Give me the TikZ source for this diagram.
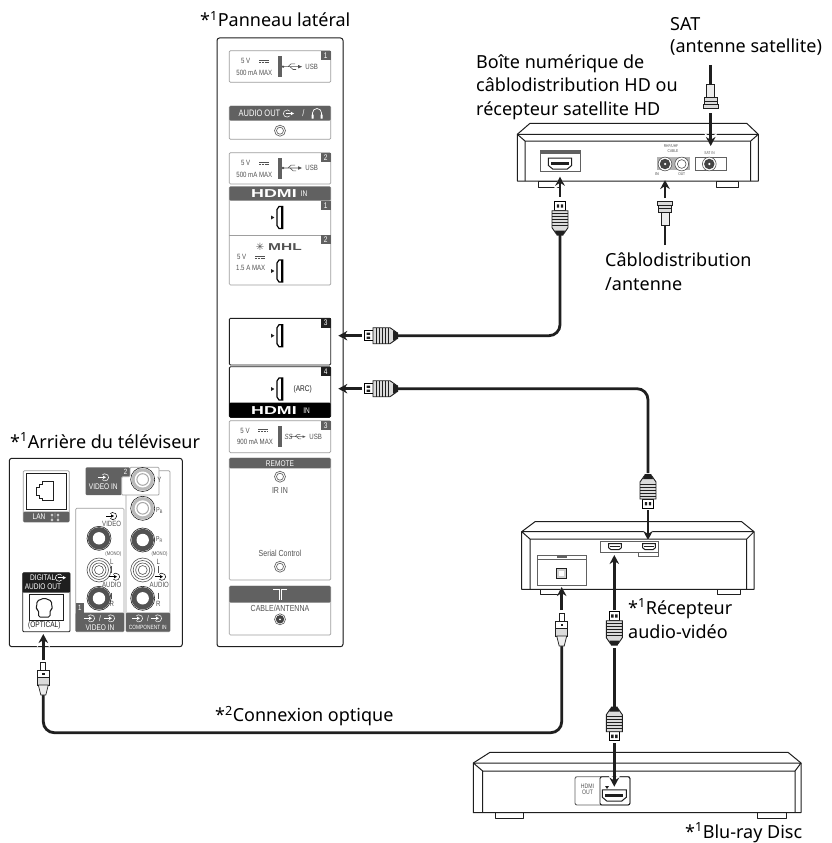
\documentclass[tikz,border=0pt]{standalone}
\usepackage{fontspec}
\usetikzlibrary{arrows.meta}
\setmainfont{Noto Sans}
\newfontfamily\nar[FakeStretch=0.8]{Liberation Sans}
\newfontfamily\wid[FakeStretch=1.55]{Liberation Sans Bold}
\newfontfamily\sym{DejaVu Sans}
\definecolor{pgray}{gray}{0.38}
\definecolor{lgray}{gray}{0.62}
\definecolor{dk}{gray}{0.12}
\definecolor{txt}{gray}{0.32}
\newcounter{tc}
\newcommand\st[4][]{\stepcounter{tc}\node[small,font={\nar\fontsize{\fpeval{#3*1.17}}{\fpeval{#3*1.17}}\selectfont},#1] (t\number\value{tc}) at (#2) {#4};}
\newcommand\wt[3]{\st[text=white]{#1}{#2}{#3}}
\tikzset{
  x=1pt,y=-1pt,
  label/.style={anchor=base west,inner sep=0pt,font=\fontsize{18}{18}\selectfont,text=black},
  small/.style={inner sep=0pt,text=txt},
  box/.style={draw=lgray,line width=0.7pt,rounded corners=1.2pt,fill=white},
  cable/.style={line width=2.8pt,draw=dk,rounded corners=11pt,line cap=butt},
  arr/.style={line width=2.5pt,draw=dk,-{Stealth[length=9pt,width=9.5pt]},
     preaction={draw=white,line width=0.1pt,-{Stealth[length=13pt,width=13pt]}}},
  dev/.style={line width=1pt,draw=dk,line join=round},
  hdmiplug/.pic={
    \draw[line width=.9pt,fill=white] (0,-5.2) rectangle (9,5.2);
    \fill[dk] (2.6,-3.2) rectangle (6,-.8) (2.6,.8) rectangle (6,3.2);
    \draw[line width=.9pt,fill=gray!28,draw=dk] (9,-8) -- (26,-8) -- (32,-3.8) -- (32,3.8) -- (26,8) -- (9,8) -- cycle;
    \fill[dk] (29,-5) -- (34,-3.2) -- (34,3.2) -- (29,5) -- cycle;
    \foreach \r in {12,15,18,21,24} \draw[line width=.6pt,draw=dk] (\r,-8) -- (\r,8);
  },
  optplug/.pic={
    \draw[line width=.7pt,fill=white,draw=dk] (0,-2.5) rectangle (8,2.5);
    \draw[line width=.8pt,fill=white,draw=dk] (8,-6) rectangle (15,6);
    \fill[dk] (10.5,-1.2) rectangle (13,1.2);
    \draw[line width=.8pt,fill=gray!28,draw=dk] (15,-6) rectangle (23,6);
    \draw[line width=.7pt,fill=gray!15,draw=dk] (23,-5) -- (33,-2.5) -- (33,2.5) -- (23,5) -- cycle;
  },
  coaxplug/.pic={
    \draw[line width=.9pt,fill=gray!28,draw=dk] (0,-7.5) rectangle (4,7.5);
    \draw[line width=.9pt,fill=gray!28,draw=dk] (4,-6.5) rectangle (11,6.5);
    \draw[line width=.5pt,draw=dk] (7,-6.5) -- (7,6.5);
    \draw[line width=.9pt,fill=gray!15,draw=dk] (11,-4) rectangle (24,4);
  },
  hport/.pic={
    \draw[line width=1.2pt,draw=black,fill=white] (-3,-8) -- (-1,-11) -- (2.8,-11) -- (2.8,11) -- (-1,11) -- (-3,8) -- cycle;
    \fill[black] (1.4,-11) rectangle (3,11);
    \fill[dk] (-9,-2) -- (-5.6,0) -- (-9,2) -- cycle;
  },
  hconn/.pic={
    \draw[line width=1pt,draw=dk,fill=white] (-8,-3.5) -- (8,-3.5) -- (8,1.5) -- (5,4) -- (-5,4) -- (-8,1.5) -- cycle;
    \fill[dk] (-6,-1) rectangle (6,1);
  },
  sjack/.pic={
    \draw[line width=.6pt,draw=txt,fill=white] (0,0) circle (5.5);
    \draw[line width=.6pt,draw=txt] (0,0) circle (3.5);
  },
  coaxj/.pic={
    \draw[line width=.6pt,draw=txt,fill=white] (0,0) circle (5.5);
    \fill[pgray!70!black] (0,0) circle (4.2);
    \fill[white] (0,0) circle (1);
  },
  rcad/.pic={
    \draw[line width=.6pt,draw=dk,fill=white] (0,0) circle (12);
    \fill[pgray!85!black] (0,0) circle (11.2);
    \fill[white] (0,0) circle (6.2);
  },
  rcag/.pic={
    \draw[line width=.6pt,draw=dk,fill=white] (0,0) circle (12);
    \fill[gray!55] (0,0) circle (11.2);
    \fill[white] (0,0) circle (8);
    \draw[line width=1pt,draw=gray!70] (0,0) circle (5.8);
  },
  rcaw/.pic={
    \draw[line width=.6pt,draw=txt,fill=white] (0,0) circle (12);
    \draw[line width=.6pt,draw=txt] (0,0) circle (9.5);
    \draw[line width=.6pt,draw=txt] (0,0) circle (7);
    \draw[line width=.6pt,draw=txt] (0,0) circle (4.5);
  },
  usbi/.pic={
    \draw[line width=.55pt,draw=txt] (-9,0) -- (7,0) (-4,0) -- (-1,-2.8) -- (3,-2.8) (-2,0) -- (1,2.8) -- (4,2.8);
    \fill[txt] (-9,0) circle (1.3) (10,0) -- (6,-1.8) -- (6,1.8) -- cycle;
  },
  dcs/.pic={
    \draw[line width=.5pt,draw=txt] (-5,-1) -- (5,-1);
    \draw[line width=.5pt,draw=txt,dash pattern=on 2pt off .8pt] (-5,1) -- (5,1);
  },
  oute/.pic={
    \draw[line width=.55pt,draw=#1] (-1,0) ++(40:3.6) arc (40:320:3.6);
    \draw[line width=.55pt,draw=#1] (-2,0) -- (3,0);
    \fill[#1] (6,0) -- (2.8,-1.8) -- (2.8,1.8) -- cycle;
  },
  oute/.default=txt,
  ine/.pic={
    \draw[line width=.5pt,draw=#1] (1,0) ++(140:3.6) arc (140:-140:3.6);
    \draw[line width=.5pt,draw=#1] (-6,0) -- (0,0);
    \fill[#1] (2,0) -- (-.8,-1.6) -- (-.8,1.6) -- cycle;
  },
  ine/.default=txt,
}
\begin{document}
\begin{tikzpicture}
\useasboundingbox (0,0) rectangle (832,843);
\fill[white] (0,0) rectangle (832,843);

%=== side panel
\node[draw=none,minimum width=126pt,minimum height=608.7pt,inner sep=0pt] (panel) at (280,342.4) {};
\draw[line width=1pt,draw=dk,rounded corners=2.5pt,fill=white] (217,38) rectangle (343,646.7);
\draw[line width=1pt,draw=pgray] (343,42) -- (343,643);
% USB 1
\draw[box] (229.3,50.7) rectangle (330.7,82.3);
\fill[pgray] (320.7,50.7) rectangle (330.7,60);
\wt{325.7,55.5}{7}{1}
\st{245.7,61}{6.5}{5 V}
\pic at (264,61) {dcs};
\st{254.3,72.7}{6.5}{500 mA MAX}
\fill[pgray] (278,56) rectangle (282,77.3);
\pic at (292,66.7) {usbi};
\st{311.7,66.7}{6.5}{USB}
% Audio
\draw[box] (229.3,106) rectangle (330.7,139.3);
\fill[pgray,rounded corners=1.2pt] (229.3,106) rectangle (330.7,120.7);
\wt{259.5,113.5}{8}{AUDIO OUT}
\pic at (288,113.5) {oute=white};
\wt{303.5,113.5}{8}{/}
\draw[line width=.7pt,draw=white] (312.5,118) -- (312.5,113) arc (-180:0:4.5) -- (321.5,118);
\fill[white] (311.5,114.5) rectangle (313.5,118.5) (320.5,114.5) rectangle (322.5,118.5);
\pic at (280,130.7) {sjack};
% USB 2
\draw[box] (229.3,152.7) rectangle (330.7,184);
\fill[pgray] (320.7,152.7) rectangle (330.7,162);
\wt{325.7,157.5}{7}{2}
\st{245.7,163}{6.5}{5 V}
\pic at (264,163) {dcs};
\st{254.3,174.5}{6.5}{500 mA MAX}
\fill[pgray] (278,158) rectangle (282,178.5);
\pic at (292,168) {usbi};
\st{311.7,168}{6.5}{USB}
% HDMI 1/2
\draw[box] (229.3,186.7) rectangle (330.7,285);
\draw[line width=.7pt,draw=lgray] (229.3,235) -- (330.7,235);
\fill[pgray,rounded corners=1.2pt] (229.3,186.7) rectangle (330.7,200.7);
\node[small,text=white,font={\wid\fontsize{11.5}{11.5}\selectfont}] (logoa) at (274,194) {HDMI};
\wt{304,194}{7}{IN}
\fill[pgray] (320.7,200.7) rectangle (330.7,210);
\wt{325.7,205.5}{7}{1}
\pic at (280,217.5) {hport};
\fill[pgray] (320.7,235) rectangle (330.7,244);
\wt{325.7,239.5}{7}{2}
\node[small,font={\wid\fontsize{10}{10}\selectfont},text=txt] (logob) at (285,246.7) {MHL};
\node[small,font={\sym\fontsize{10}{10}\selectfont},text=txt] (star) at (260,246.7) {✳};
\st{241.7,257}{6.5}{5 V}
\pic at (260,257) {dcs};
\st{250.7,268.3}{6.5}{1.5 A MAX}
\pic at (280,271) {hport};
% HDMI 3/4
\node[inner sep=0pt,minimum width=6pt,minimum height=22pt] (h3) at (280,335.7) {};
\node[inner sep=0pt,minimum width=6pt,minimum height=22pt] (h4) at (280,389) {};
\draw[line width=.9pt,draw=dk,rounded corners=1.2pt] (229.3,318.3) rectangle (330.7,365);
\fill[dk] (320.7,318.3) rectangle (330.7,327.5);
\wt{325.7,323}{7}{3}
\pic at (280,335.7) {hport};
\draw[line width=.9pt,draw=dk,rounded corners=1.2pt] (229.3,366.7) rectangle (330.7,417.3);
\fill[dk] (320.7,366.7) rectangle (330.7,376);
\wt{325.7,371.5}{7}{4}
\pic at (280,389) {hport};
\st[text=dk]{302.7,389}{7}{(ARC)}
\fill[black,rounded corners=1.2pt] (229.3,402.7) rectangle (330.7,417.3);
\node[small,text=white,font={\wid\fontsize{11.5}{11.5}\selectfont}] (logoc) at (274,410.5) {HDMI};
\wt{306.7,410.5}{7}{IN}
% USB 3
\draw[box] (229.3,420.7) rectangle (330.7,452.7);
\fill[pgray] (320.7,420.7) rectangle (330.7,430);
\wt{325.7,425.5}{7}{3}
\st{245,430.7}{6.5}{5 V}
\pic at (263.3,430.7) {dcs};
\st{255,441.7}{6.5}{900 mA MAX}
\fill[pgray] (278,426) rectangle (282,446.7);
\st[font={\itshape\nar\fontsize{7.5}{7.5}\selectfont}]{288.5,436.7}{7}{SS}
\pic[scale=.75] at (298,436.7) {usbi};
\st{315.7,437}{6.5}{USB}
% Remote
\draw[box] (229.3,458) rectangle (330.7,580);
\fill[pgray,rounded corners=1.2pt] (229.3,458) rectangle (330.7,468.3);
\wt{280,463.3}{7}{REMOTE}
\pic at (280,476.7) {sjack};
\st{280,490}{7.5}{IR IN}
\st{280,553.3}{7.5}{Serial Control}
\pic at (280,566.7) {sjack};
% Cable
\draw[box] (229.3,586) rectangle (330.7,635);
\fill[pgray,rounded corners=1.2pt] (229.3,586) rectangle (330.7,602.7);
\draw[line width=.7pt,draw=white] (273,589) -- (279,589) -- (279,600) (287,589) -- (281,589) -- (281,600);
\st{280,608.3}{7.5}{CABLE/ANTENNA}
\pic at (280,619.3) {coaxj};

%=== rear panel
\draw[line width=1pt,draw=dk,rounded corners=2.5pt,fill=white] (9.3,458.3) rectangle (182.3,646.7);
% LAN
\draw[box] (23.3,470.7) rectangle (69.3,522);
\fill[pgray,rounded corners=1pt] (23.3,511.7) rectangle (69.3,522);
\draw[line width=.8pt,draw=dk] (26,473) rectangle (66.6,509);
\draw[line width=.8pt,draw=dk] (53.3,481.7) -- (42,481.7) -- (42,484.5) -- (39.5,484.5) -- (39.5,487) -- (36.7,487) -- (36.7,495.5) -- (39.5,495.5) -- (39.5,498) -- (42,498) -- (42,500.7) -- (53.3,500.7) -- cycle;
\wt{39,517}{7}{LAN}
\draw[line width=.45pt,draw=white] (52,515) circle (1.1) (58,515) circle (1.1) (52,520) circle (1.1) (58,520) circle (1.1) (55,512.5) -- (55,517.5) (52,516) -- (52,519) (58,516) -- (58,519);
% Component column
\draw[box] (126,470.7) rectangle (170,631.7);
\fill[pgray,rounded corners=1pt] (126,612.7) rectangle (170,631.7);
% video in 2 header
\fill[pgray,rounded corners=1pt] (85.7,467.3) -- (130,467.3) -- (130,476.5) -- (121.7,476.7) -- (121.7,495) -- (85.7,495) -- cycle;
\wt{125.5,471.5}{6.5}{2}
\pic at (104,477.3) {ine=white};
\wt{103.3,486.7}{7}{VIDEO IN}
\draw[line width=.7pt,draw=lgray,fill=white,rounded corners=1pt] (121.7,476.7) -- (130,476.7) -- (130,467.3) -- (159,467.3) -- (159,495) -- (121.7,495) -- cycle;
\pic at (142.7,479.5) {rcag};
\st{159.5,480}{6.5}{Y}
\pic at (142.7,508.3) {rcag};
\st{159.5,511}{6}{P\textsubscript{B}}
\pic at (142.7,540) {rcad};
\st{159.5,540}{6}{P\textsubscript{R}}
\pic at (142.7,570) {rcaw};
\st{159.5,554}{4.5}{(MONO)}
\st{158.3,561.7}{6.5}{L}
\draw[line width=.5pt,draw=txt] (158.3,566) -- (158.3,573);
\pic at (161,576.7) {ine};
\st{159.3,585}{6.5}{AUDIO}
\draw[line width=.5pt,draw=txt] (158.3,592.5) -- (158.3,599);
\st{158.3,604}{6.5}{R}
\pic at (142.7,598.3) {rcad};
\pic at (138,618.3) {ine=white};
\wt{148,618.3}{7}{/}
\pic at (157,618.3) {ine=white};
\wt{147.7,627}{5.2}{COMPONENT IN}
% Left column
\draw[box] (75.7,508.3) rectangle (124,631.7);
\fill[pgray,rounded corners=1pt] (75.7,612.7) rectangle (124,631.7);
\fill[pgray] (75.7,603) rectangle (84,612.7);
\wt{79.8,608}{6.5}{1}
\pic at (112,516) {ine};
\st{111.7,524.3}{6.5}{VIDEO}
\pic at (99,538.3) {rcad};
\pic at (99,570) {rcaw};
\st{113.3,554}{4.5}{(MONO)}
\st{111.7,561.7}{6.5}{L}
\draw[line width=.5pt,draw=txt] (111.7,566) -- (111.7,573);
\pic at (115,576.7) {ine};
\st{111.7,585}{6.5}{AUDIO}
\draw[line width=.5pt,draw=txt] (111.7,592.5) -- (111.7,599);
\st{111.7,604}{6.5}{R}
\pic at (99,598.3) {rcad};
\pic at (90,618.3) {ine=white};
\wt{100,618.3}{7}{/}
\pic at (110,618.3) {ine=white};
\wt{100,627.3}{7}{VIDEO IN}
% Optical
\node[inner sep=0pt,minimum width=34pt,minimum height=26.7pt] (opt) at (46.3,607.3) {};
\draw[line width=.8pt,draw=dk,rounded corners=1pt,fill=white] (22.7,572.7) rectangle (70,631.7);
\fill[dk,rounded corners=1pt] (22.7,572.7) rectangle (70,592.7);
\wt{42.7,577.7}{7}{DIGITAL}
\pic at (60,577.7) {oute=white};
\wt{43,587}{7}{AUDIO OUT}
\draw[line width=.9pt,draw=dk] (29.3,594) rectangle (63.3,620.7);
\draw[line width=1pt,draw=dk,rounded corners=1.5pt] (44.3,598) -- (37,601) -- (37,604) -- (36,609) -- (38.5,610) -- (38.5,617) -- (50,617) -- (50,610) -- (52.5,609) -- (51.5,604) -- (51.5,601) -- cycle;
\st[text=dk]{44.3,625.7}{7}{(OPTICAL)}

%=== set-top box
\node[inner sep=0pt,minimum width=25pt,minimum height=10pt] (stbh) at (560,163) {};
\draw[dev,fill=white] (538,181) rectangle (560.7,187) (716,181) rectangle (738,187);
\draw[dev,fill=white] (517.3,134.3) -- (530,123.3) -- (746.7,123.3) -- (758.3,134.3) -- (758.3,181) -- (517.3,181) -- cycle;
\draw[dev] (517.3,134.3) -- (758.3,134.3) (517.3,134.3) -- (525,141) -- (750.7,141) -- (758.3,134.3) (525,141) -- (525,181) (750.7,141) -- (750.7,181);
\draw[line width=.7pt,draw=pgray] (540.7,150.7) rectangle (580,171.7);
\fill[pgray] (540.7,150.7) rectangle (580,154);
\pic[scale=1.45] at (560,163.3) {hconn};
\fill[gray!60] (657.3,157.3) rectangle (690,170);
\draw[line width=.8pt,draw=pgray] (695,157.3) rectangle (726,170);
\pic[scale=1.25] at (665,164) {coaxj};
\pic[scale=1.25] at (681.7,164) {sjack};
\pic[scale=1.25] at (709.3,164) {coaxj};
\st{671,146.5}{3.5}{RHF/UHF}
\st{673,151.5}{3.5}{CABLE}
\st[text=dk]{657,174}{3.5}{IN}
\st{681.7,174}{3.5}{OUT}
\st{709.5,153}{3.5}{SAT IN}

%=== AV receiver
\draw[dev,fill=white] (540,589.3) rectangle (562.7,594) (717,589.3) rectangle (740.7,594);
\draw[dev,fill=white] (521.7,531.7) -- (535,521.7) -- (741.7,521.7) -- (754,531.7) -- (754,589.3) -- (521.7,589.3) -- cycle;
\draw[dev] (521.7,531.7) -- (754,531.7) (521.7,531.7) -- (530,539) -- (746.7,539) -- (754,531.7) (530,539) -- (530,589.3) (746.7,539) -- (746.7,589.3);
\draw[line width=.7pt,draw=pgray] (600,541) rectangle (658,552.3) (638.5,552.3) rectangle (658,556.7);
\pic[scale=.8] at (615,546.5) {hconn};
\pic[scale=.8] at (649,546.5) {hconn};
\draw[line width=.7pt,draw=pgray] (537.7,555) rectangle (586,585.7);
\draw[line width=.5pt,draw=pgray] (537.7,559) -- (586,559);
\fill[pgray] (557,556) rectangle (567,558);
\draw[line width=.8pt,draw=dk,fill=gray!35] (556.5,568) rectangle (566.5,578);
\fill[white] (559,570.5) rectangle (564,575.5);

%=== Blu-ray
\draw[dev,fill=white] (495.7,812.7) rectangle (523,818.3) (757.7,812.7) rectangle (786,818.3);
\draw[dev,fill=white] (473.3,763) -- (490,752.3) -- (788,752.3) -- (801,763) -- (801,812.7) -- (473.3,812.7) -- cycle;
\draw[dev] (473.3,763) -- (801,763) (473.3,763) -- (482.7,771) -- (795,771) -- (801,763) (482.7,771) -- (482.7,812.7) (795,771) -- (795,812.7);
\draw[line width=.9pt,draw=pgray,rounded corners=2pt] (575,776.7) rectangle (630,805);
\draw[line width=.9pt,draw=dk,rounded corners=2pt] (600,776.7) rectangle (630,805);
\st{587.5,786}{5.5}{HDMI}
\st{587.5,792.5}{5.5}{OUT}
\pic[scale=1.5] at (614.3,795) {hconn};
\fill[dk] (605,786) -- (609,786) -- (607,789) -- cycle;

%=== connection points
\coordinate (satTop) at (710.7,65);
\coordinate (satA) at (710.7,113);
\coordinate (satPort) at (710.7,146);
\coordinate (antBot) at (665,245);
\coordinate (antA) at (665,198);
\coordinate (antPort) at (665,180);
\coordinate (stbA) at (560,196.7);
\coordinate (stbPort) at (560,176.7);
\coordinate (c3plug) at (398,335.7);
\coordinate (c3turn) at (560,335.7);
\coordinate (c3top) at (560,235);
\coordinate (h3A) at (362,335.7);
\coordinate (h3Tip) at (338.3,335.7);
\coordinate (c4plug) at (398,388.7);
\coordinate (c4turn) at (648,388.7);
\coordinate (c4bot) at (648,473);
\coordinate (h4A) at (362,388.7);
\coordinate (h4Tip) at (338.3,388.7);
\coordinate (avA) at (648,510);
\coordinate (avPort) at (648,540);
\coordinate (avBot) at (614.3,648);
\coordinate (bdTop) at (614.3,706.7);
\coordinate (av2A) at (614.3,610);
\coordinate (av2Port) at (614.3,555);
\coordinate (bdA) at (614.3,743);
\coordinate (bdPort) at (614.3,786.7);
\coordinate (opA) at (561.7,610);
\coordinate (opPort) at (561.7,587);
\coordinate (opBot) at (561.7,645);
\coordinate (opTop) at (43.3,695);
\coordinate (opC1) at (43.3,732.7);
\coordinate (opC2) at (561.7,732.7);
\coordinate (ofA) at (43.3,660);
\coordinate (ofPort) at (43.3,634);

%=== cables
\draw[cable] (satTop) -- (710.7,87);
\draw[cable] (antBot) -- (665,226);
\draw[cable] (c3plug) -- (c3turn) -- (c3top);
\draw[cable] (c4plug) -- (c4turn) -- (c4bot);
\draw[cable] (avBot) -- (bdTop);
\draw[cable] (opTop) -- (opC1) -- (opC2) -- (opBot);

%=== plugs
\pic[rotate=90] at (710.7,108.5) {coaxplug};
\pic[rotate=-90] at (665,201.7) {coaxplug};
\pic[rotate=-90] at (560,201.7) {hdmiplug};
\pic at (364,335.7) {hdmiplug};
\pic at (364,388.7) {hdmiplug};
\pic[rotate=90] at (648,508) {hdmiplug};
\pic[rotate=-90] at (614.3,611.7) {hdmiplug};
\pic[rotate=90] at (614.3,740.7) {hdmiplug};
\pic[rotate=-90] at (561.7,613) {optplug};
\pic[rotate=-90] at (43.3,662) {optplug};

%=== arrows
\draw[arr] (satA) -- (satPort);
\draw[arr] (antA) -- (antPort);
\draw[arr] (stbA) -- (stbPort);
\draw[arr] (h3A) -- (h3Tip);
\draw[arr] (h4A) -- (h4Tip);
\draw[arr] (avA) -- (avPort);
\draw[arr] (av2A) -- (av2Port);
\draw[arr] (bdA) -- (bdPort);
\draw[arr] (opA) -- (opPort);
\draw[arr] (ofA) -- (ofPort);

%=== labels
\node[label] (lPanel) at (200,27) {*\textsuperscript{1}Panneau latéral};
\node[label] (lRear) at (10,448) {*\textsuperscript{1}Arrière du téléviseur};
\node[label] (lSat1) at (670,30.7) {SAT};
\node[label] (lSat2) at (670,52.7) {(antenne satellite)};
\node[label] (lStb1) at (476,68) {Boîte numérique de};
\node[label] (lStb2) at (476,91.5) {câblodistribution HD ou};
\node[label] (lStb3) at (476,115) {récepteur satellite HD};
\node[label] (lCab1) at (605,266.7) {Câblodistribution};
\node[label] (lCab2) at (605,290) {/antenne};
\node[label] (lAv1) at (628,614) {*\textsuperscript{1}Récepteur};
\node[label] (lAv2) at (628,638) {audio-vidéo};
\node[label] (lOpt) at (215,721.7) {*\textsuperscript{2}Connexion optique};
\node[label] (lBd) at (685,838) {*\textsuperscript{1}Blu-ray Disc};
\end{tikzpicture}
\end{document}
